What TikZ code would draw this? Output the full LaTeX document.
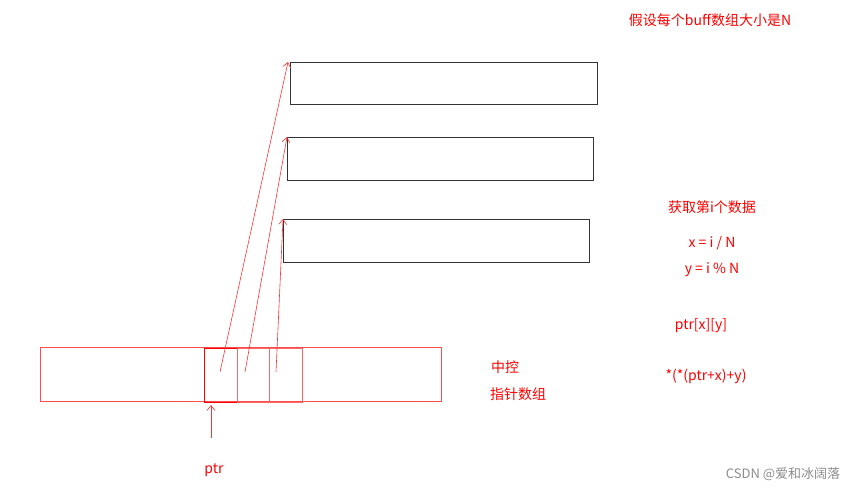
\documentclass[tikz,border=0pt]{standalone}
\usepackage{fontspec}
\usetikzlibrary{arrows.meta}
\setmainfont{Noto Sans CJK SC}
\begin{document}
\begin{tikzpicture}[x=1pt,y=-1pt,
  buf/.style={draw=black!80,line width=0.8pt},
  redtxt/.style={text=red,font=\fontsize{14}{16}\selectfont,inner sep=0pt},
  rl/.style={draw=red,line width=0.6pt},
  arr/.style={draw=red!80,line width=0.6pt,-{Straight Barb[length=5pt,width=8pt]}}]
\useasboundingbox[fill=white] (0,0) rectangle (866,491);
\node[redtxt] (title) at (710,20) {假设每个buff数组大小是N};
\draw[buf] (290,62) rectangle (597,104);
\draw[buf] (287,137) rectangle (593,180);
\draw[buf] (283,219) rectangle (589,262);
\coordinate (b1) at (288,62);
\coordinate (b2) at (287,137);
\coordinate (b3) at (283,219);
\draw[draw=red!70,line width=0.6pt] (40,347) rectangle (441,401);
\draw[rl,line width=0.9pt] (204,348) rectangle (237,402);
\draw[draw=red!60,line width=0.6pt] (237,348) rectangle (269,402);
\draw[draw=red!60,line width=0.6pt] (269,348) rectangle (302,402);
\coordinate (s1) at (220,372);
\coordinate (s2) at (245,372);
\coordinate (s3) at (276,372);
\draw[arr] (s1) -- (b1);
\draw[arr] (s2) -- (b2);
\draw[arr] (s3) -- (b3);
\node[redtxt] (ptr) at (214,470) {ptr};
\coordinate (pb) at (211,438);
\coordinate (pt) at (211,405);
\draw[arr] (pb) -- (pt);
\node[redtxt] (zk) at (505,367) {中控};
\node[redtxt] (zz) at (518,394) {指针数组};
\node[redtxt] (t1) at (712,207) {获取第i个数据};
\node[redtxt] (t2) at (712,243) {x = i / N};
\node[redtxt] (t3) at (712,270) {y = i \% N};
\node[redtxt] (t4) at (701,326) {ptr[x][y]};
\node[redtxt] (t5) at (706,376) {*(*(ptr+x)+y)};
\node[text=black!45,font=\fontsize{13}{15}\selectfont,inner sep=0pt] (wm) at (783,474) {CSDN @爱和冰阔落};
\end{tikzpicture}
\end{document}
